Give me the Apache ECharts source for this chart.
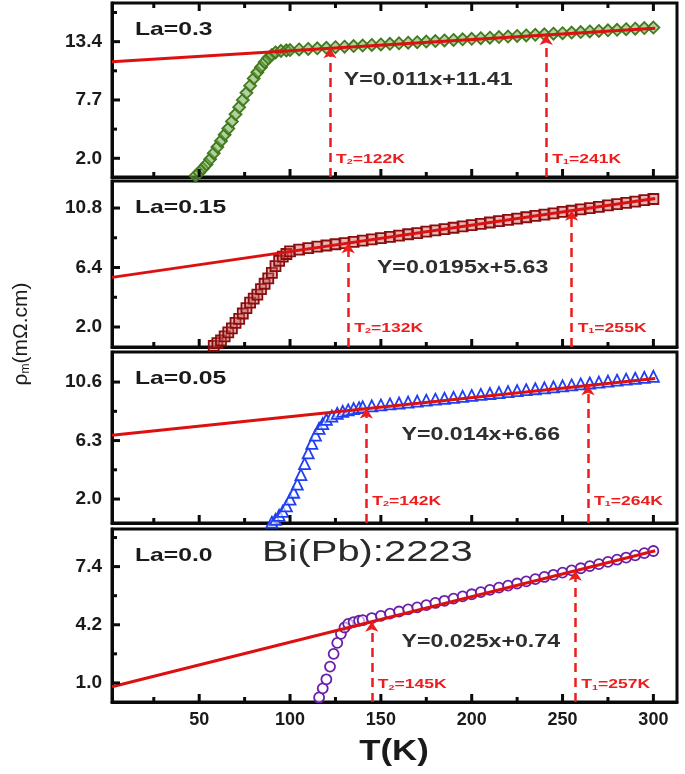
<!DOCTYPE html>
<html>
<head>
<meta charset="utf-8">
<script src="https://cdn.jsdelivr.net/npm/echarts@6/dist/echarts.min.js"></script>
<style>
  html, body { margin: 0; padding: 0; background: #fff; }
  #chart { width: 685px; height: 774px; }
</style>
</head>
<body>
<div id="chart"></div>
<script>
// ---- data ----
// La = 0.3
const tLa03 = [48,50,52,54,56,58,60,62,64,66,68,70,72,74,76,78,80,82,84,86,88,90,92,95,98,
  100,105,110,115,120,125,130,135,140,145,150,155,160,165,170,175,180,185,190,195,200,
  205,210,215,220,225,230,235,240,245,250,255,260,265,270,275,280,285,290,295,300];
const rhoLa03 = [0.3,0.6,1.0,1.4,1.9,2.5,3.1,3.7,4.3,4.9,5.6,6.3,7.0,7.7,8.4,9.1,9.8,10.4,10.9,11.4,11.8,12.1,12.35,12.5,12.55,
  12.58,12.64,12.69,12.75,12.80,12.86,12.91,12.97,13.02,13.08,13.13,13.19,13.24,13.30,13.35,13.41,13.46,13.52,13.57,13.63,13.68,
  13.74,13.79,13.85,13.90,13.96,14.01,14.07,14.12,14.18,14.23,14.29,14.34,14.40,14.45,14.51,14.56,14.62,14.67,14.73,14.78];
// La = 0.15
const tLa015 = [58,60,62,64,66,68,70,72,74,76,78,80,82,84,86,88,90,92,94,96,98,
  100,105,110,115,120,125,130,135,140,145,150,155,160,165,170,175,180,185,190,195,200,
  205,210,215,220,225,230,235,240,245,250,255,260,265,270,275,280,285,290,295,300];
const rhoLa015 = [0.6,0.8,1.0,1.3,1.6,1.9,2.3,2.6,3.0,3.4,3.8,4.1,4.4,4.8,5.2,5.6,6.0,6.5,6.9,7.2,7.4,
  7.60,7.72,7.84,7.94,8.03,8.12,8.21,8.30,8.39,8.48,8.57,8.66,8.76,8.86,8.95,9.05,9.15,9.24,9.34,9.44,9.54,
  9.63,9.73,9.83,9.92,10.02,10.12,10.22,10.31,10.41,10.51,10.60,10.70,10.80,10.89,10.99,11.09,11.18,11.28,11.38,11.47];
// La = 0.05
const tLa005 = [90,92,94,96,98,100,102,104,106,108,110,112,114,116,118,120,123,126,129,132,135,138,
  140,145,150,155,160,165,170,175,180,185,190,195,200,205,210,215,220,225,230,235,240,245,250,
  255,260,265,270,275,280,285,290,295,300];
const rhoLa005 = [0.3,0.5,0.8,1.1,1.5,2.0,2.5,3.1,3.8,4.6,5.4,6.1,6.7,7.2,7.55,7.85,8.1,8.3,8.45,8.55,8.65,8.72,
  8.78,8.85,8.92,8.99,9.06,9.13,9.20,9.27,9.34,9.41,9.48,9.55,9.62,9.69,9.76,9.83,9.90,9.97,10.04,10.11,10.18,10.25,10.32,
  10.39,10.46,10.53,10.60,10.67,10.74,10.81,10.88,10.95,11.02];
// La = 0.0
const tLa00 = [116,118,120,122,124,126,128,130,132,135,138,
  140,145,150,155,160,165,170,175,180,185,190,195,200,205,210,215,220,225,230,235,240,245,250,
  255,260,265,270,275,280,285,290,295,300];
const rhoLa00 = [0.2,0.7,1.2,1.9,2.6,3.2,3.7,4.05,4.25,4.35,4.42,
  4.45,4.57,4.69,4.81,4.93,5.05,5.16,5.28,5.40,5.52,5.64,5.76,5.88,6.00,6.12,6.24,6.35,6.47,6.59,6.71,6.83,6.95,7.07,
  7.19,7.31,7.43,7.54,7.66,7.78,7.90,8.02,8.14,8.26];

// linear fits (end points) and the T2 / T1 markers
const fitLa03 = [[2, 11.43], [301, 14.72]];
const fitLa015 = [[2, 5.67], [301, 11.50]];
const fitLa005 = [[2, 6.69], [301, 10.87]];
const fitLa00 = [[2, 0.79], [301, 8.27]];
const markT = [[122, 241], [132, 255], [142, 264], [145, 257]];
const markTop = [[12.75, 14.06], [8.20, 10.60], [8.65, 10.36], [4.37, 7.17]];
const markLabelY = [2.0, 2.0, 1.9, 0.95];
const equations = ['Y=0.011x+11.41', 'Y=0.0195x+5.63', 'Y=0.014x+6.66', 'Y=0.025x+0.74'];
const equationPos = [[176, 9.7], [195, 6.4], [205, 6.7], [205, 3.25]];
const laNames = ['La=0.3', 'La=0.15', 'La=0.05', 'La=0.0'];

// axis ticks
const xMajor = [50, 100, 150, 200, 250, 300];
const xMinor = [25, 75, 125, 175, 225, 275];
const yMin = [0.17, 0.52, 0.24, -0.05];
const yMax = [17.18, 12.8, 12.81, 9.47];
const yMajor = [[2.0, 7.7, 13.4], [2.0, 6.4, 10.8], [2.0, 6.3, 10.6], [1.0, 4.2, 7.4]];
const yMinor = [[4.85, 10.55, 16.25], [4.2, 8.6], [4.15, 8.45], [2.6, 5.8, 9.0]];

// ---- chart ----
const FONT = 'Liberation Sans, Arial, sans-serif';
const RED = '#ee1c1c';
const INK = '#0a0a0a';
const gridRects = [[3, 174], [181, 166], [352, 171], [529, 173]];
const dataSets = [[tLa03, rhoLa03], [tLa015, rhoLa015], [tLa005, rhoLa005], [tLa00, rhoLa00]];
const fits = [fitLa03, fitLa015, fitLa005, fitLa00];
const looks = [
  { symbol: 'diamond', size: 12, color: '#3f7a1c', fill: 'rgba(120,170,80,0.55)' },
  { symbol: 'rect', size: 10, color: '#8a0d0d', fill: 'rgba(200,90,90,0.45)' },
  { symbol: 'triangle', size: 11, color: '#1f3ff0', fill: 'rgba(255,255,255,0.6)' },
  { symbol: 'circle', size: 10, color: '#6a1fa8', fill: 'rgba(255,255,255,0.6)' }
];

const chart = echarts.init(document.getElementById('chart'));

const grid = gridRects.map(([top, height]) => ({
  left: 112, top: top, width: 565, height: height,
  show: true, borderColor: INK, borderWidth: 3, backgroundColor: 'transparent'
}));

const xAxis = [];
const yAxis = [];
for (let i = 0; i < 4; i++) {
  xAxis.push({
    gridIndex: i, type: 'value', position: 'bottom', min: 2, max: 313,
    axisLine: { show: true, onZero: false, lineStyle: { color: INK, width: 3 } },
    splitLine: { show: false }, axisTick: { show: false },
    axisLabel: { show: i === 3, customValues: xMajor, margin: 9,
      fontFamily: FONT, fontSize: 18, fontWeight: 'bold', color: '#1a1a1a' }
  });
  yAxis.push({
    gridIndex: i, type: 'value', position: 'left', min: yMin[i], max: yMax[i],
    axisLine: { show: true, onZero: false, lineStyle: { color: INK, width: 3 } },
    splitLine: { show: false }, axisTick: { show: false },
    axisLabel: { customValues: yMajor[i], margin: 10, formatter: v => v.toFixed(1),
      fontFamily: FONT, fontSize: 19, fontWeight: 'bold', color: '#1a1a1a' }
  });
}

const series = [];
for (let i = 0; i < 4; i++) {
  const [ts, rs] = dataSets[i];
  series.push({
    type: 'scatter', xAxisIndex: i, yAxisIndex: i,
    data: ts.map((t, k) => [t, rs[k]]),
    symbol: looks[i].symbol, symbolSize: looks[i].size,
    itemStyle: { color: looks[i].fill, borderColor: looks[i].color, borderWidth: 1.8, opacity: 1 },
    z: 2, silent: true
  });
  series.push({
    type: 'line', xAxisIndex: i, yAxisIndex: i,
    data: fits[i], symbol: 'none',
    lineStyle: { color: '#dd1010', width: 3 },
    z: 3, silent: true,
    markLine: {
      silent: true, symbol: ['none', 'arrow'], symbolSize: 10,
      label: { show: false },
      lineStyle: { color: RED, width: 2.5, type: [9, 6] },
      data: markT[i].map((t, k) => [{ coord: [t, yMin[i]] }, { coord: [t, markTop[i][k]] }])
    }
  });
}

chart.setOption({
  animation: false,
  grid: grid,
  xAxis: xAxis,
  yAxis: yAxis,
  series: series
});

// ---- inward ticks, placed through the axes' own scales ----
const graphic = [];
function tickLine(x1, y1, x2, y2) {
  graphic.push({ type: 'line', z: 5, silent: true,
    shape: { x1: x1, y1: y1, x2: x2, y2: y2 }, style: { stroke: INK, lineWidth: 3 } });
}
for (let i = 0; i < 4; i++) {
  const top = gridRects[i][0];
  const bottom = top + gridRects[i][1];
  const left = 112;
  xMajor.concat(xMinor).forEach(v => {
    const len = xMajor.includes(v) ? 8 : 5;
    const px = chart.convertToPixel({ xAxisIndex: i }, v);
    tickLine(px, bottom, px, bottom - len);
    if (i === 0) tickLine(px, top, px, top + len);
  });
  yMajor[i].concat(yMinor[i]).forEach(v => {
    const len = yMajor[i].includes(v) ? 8 : 5;
    const py = chart.convertToPixel({ yAxisIndex: i }, v);
    tickLine(left, py, left + len, py);
  });
}

// ---- text annotations ----
for (let i = 0; i < 4; i++) {
  const finder = { xAxisIndex: i, yAxisIndex: i };
  const eq = chart.convertToPixel(finder, equationPos[i]);
  graphic.push({
    type: 'text', x: eq[0], y: eq[1], scaleX: 1.22, z: 10,
    style: { text: equations[i], align: 'center', verticalAlign: 'middle',
      font: 'bold 19px ' + FONT, fill: '#2e2e2e' }
  });
  markT[i].forEach((t, k) => {
    const p = chart.convertToPixel(finder, [t, markLabelY[i]]);
    graphic.push({
      type: 'text', x: p[0] + 6, y: p[1], scaleX: 1.35, z: 10,
      style: {
        text: '{t|T}{s|' + (k === 0 ? '2' : '1') + '}{t|=' + t + 'K}',
        align: 'left', verticalAlign: 'middle',
        rich: {
          t: { fontFamily: FONT, fontSize: 13, fontWeight: 'bold', fill: RED, lineHeight: 15, verticalAlign: 'bottom' },
          s: { fontFamily: FONT, fontSize: 8, fontWeight: 'bold', fill: RED, lineHeight: 9, verticalAlign: 'bottom' }
        }
      }
    });
  });
  graphic.push({
    type: 'text', x: 135, y: gridRects[i][0] + 27, scaleX: 1.3, z: 10,
    style: { text: laNames[i], align: 'left', verticalAlign: 'middle',
      font: 'bold 19px ' + FONT, fill: '#1a1a1a' }
  });
}
graphic.push({
  type: 'text', x: 262, y: 553, scaleX: 1.33, z: 10,
  style: { text: 'Bi(Pb):2223', align: 'left', verticalAlign: 'middle',
    font: '30px ' + FONT, fill: '#2a2a2a' }
});
graphic.push({
  type: 'text', x: 394, y: 752, scaleX: 1.2, z: 10,
  style: { text: 'T(K)', align: 'center', verticalAlign: 'middle',
    font: 'bold 29px ' + FONT, fill: '#1a1a1a' }
});
graphic.push({
  type: 'text', x: 20, y: 334, rotation: Math.PI / 2, z: 10,
  style: {
    text: '{a|ρ}{s|m}{a|(mΩ.cm)}', align: 'center', verticalAlign: 'middle',
    rich: {
      a: { fontFamily: FONT, fontSize: 21, fill: '#1a1a1a', lineHeight: 24, verticalAlign: 'bottom' },
      s: { fontFamily: FONT, fontSize: 12, fill: '#1a1a1a', lineHeight: 11, verticalAlign: 'bottom' }
    }
  }
});
chart.setOption({ graphic: graphic });
</script>
</body>
</html>
